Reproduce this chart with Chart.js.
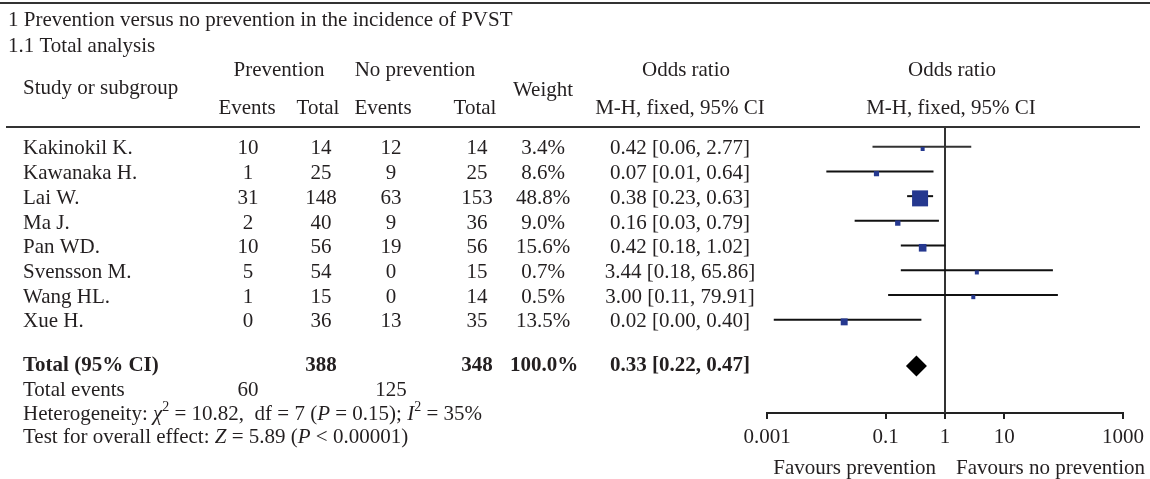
<!DOCTYPE html>
<html>
<head>
<meta charset="utf-8">
<script src="https://cdn.jsdelivr.net/npm/chart.js@4.4.0/dist/chart.umd.min.js"></script>
<style>
  html, body { margin: 0; padding: 0; background: #fff; }
  #wrap { width: 1150px; height: 479px; position: relative; }
</style>
</head>
<body>
<div id="wrap"><canvas id="forest"></canvas></div>
<script>
// study data
const studies = ['Kakinokil K.', 'Kawanaka H.', 'Lai W.', 'Ma J.', 'Pan WD.', 'Svensson M.', 'Wang HL.', 'Xue H.'];
const prevEvents = [10, 1, 31, 2, 10, 5, 1, 0];
const prevTotal = [14, 25, 148, 40, 56, 54, 15, 36];
const noPrevEvents = [12, 9, 63, 9, 19, 0, 0, 13];
const noPrevTotal = [14, 25, 153, 36, 56, 15, 14, 35];
const weights = [3.4, 8.6, 48.8, 9.0, 15.6, 0.7, 0.5, 13.5];
const oddsRatio = [0.42, 0.07, 0.38, 0.16, 0.42, 3.44, 3.00, 0.02];
const ciLow = [0.06, 0.01, 0.23, 0.03, 0.18, 0.18, 0.11, 0.0013];
const ciHigh = [2.77, 0.64, 0.63, 0.79, 1.02, 65.86, 79.91, 0.40];

// pooled result
const totalN = [388, 348];
const totalWeight = 100.0;
const totalEvents = [60, 125];
const pooled = [0.33, 0.22, 0.47]; // OR, low, high

// axis
const tickValues = [0.001, 0.1, 1, 10, 1000];
const tickLabels = ['0.001', '0.1', '1', '10', '1000'];

const FS = 21;
const FONT = '"Liberation Serif", "Times New Roman", serif';
const INK = '#231f20';
const BLUE = '#25388f';
const totalRow = studies.length + 0.79;

function txt(ctx, s, x, y, align, bold) {
  ctx.font = (bold ? 'bold ' : '') + FS + 'px ' + FONT;
  ctx.textAlign = align || 'center';
  ctx.fillText(s, x, y);
}

function runs(ctx, parts, x, y) {
  ctx.textAlign = 'left';
  parts.forEach(p => {
    let size = p.sup ? 14 : FS;
    ctx.font = (p.it ? 'italic ' : '') + size + 'px ' + FONT;
    ctx.fillText(p.t, x, p.sup ? y - 7 : y);
    x += ctx.measureText(p.t).width;
  });
}

const tablePlugin = {
  id: 'table',
  beforeDraw(chart) {
    const ctx = chart.ctx;
    ctx.save();
    ctx.fillStyle = '#fff';
    ctx.fillRect(0, 0, chart.width, chart.height);
    ctx.restore();
  },
  beforeDatasetsDraw(chart) {
    const ctx = chart.ctx, xs = chart.scales.x, area = chart.chartArea;
    let x1 = xs.getPixelForValue(1);
    ctx.save();
    ctx.strokeStyle = '#333';
    ctx.lineWidth = 2;
    ctx.beginPath();
    ctx.moveTo(x1, area.top);
    ctx.lineTo(x1, area.bottom);
    ctx.stroke();
    ctx.restore();
  },
  afterDraw(chart) {
    const ctx = chart.ctx, xs = chart.scales.x, ys = chart.scales.y;
    ctx.save();
    ctx.fillStyle = INK;
    ctx.textBaseline = 'middle';

    // rules
    ctx.strokeStyle = '#333';
    ctx.lineWidth = 2;
    ctx.beginPath();
    ctx.moveTo(0, 3); ctx.lineTo(1150, 3);
    ctx.moveTo(6, chart.chartArea.top); ctx.lineTo(1140, chart.chartArea.top);
    ctx.stroke();

    // headers
    txt(ctx, '1 Prevention versus no prevention in the incidence of PVST', 8, 20, 'left');
    txt(ctx, '1.1 Total analysis', 8, 46, 'left');
    txt(ctx, 'Study or subgroup', 23, 88, 'left');
    txt(ctx, 'Prevention', 279, 70);
    txt(ctx, 'No prevention', 415, 70);
    txt(ctx, 'Weight', 543, 90);
    txt(ctx, 'Odds ratio', 686, 70);
    txt(ctx, 'Odds ratio', 952, 70);
    txt(ctx, 'Events', 247, 108);
    txt(ctx, 'Total', 318, 108);
    txt(ctx, 'Events', 383, 108);
    txt(ctx, 'Total', 475, 108);
    txt(ctx, 'M-H, fixed, 95% CI', 680, 108);
    txt(ctx, 'M-H, fixed, 95% CI', 951, 108);

    // study rows
    studies.forEach((s, i) => {
      let y = ys.getPixelForValue(i);
      txt(ctx, s, 23, y, 'left');
      txt(ctx, String(prevEvents[i]), 248, y);
      txt(ctx, String(prevTotal[i]), 321, y);
      txt(ctx, String(noPrevEvents[i]), 391, y);
      txt(ctx, String(noPrevTotal[i]), 477, y);
      txt(ctx, weights[i].toFixed(1) + '%', 543, y);
      txt(ctx, oddsRatio[i].toFixed(2) + ' [' + ciLow[i].toFixed(2) + ', ' + ciHigh[i].toFixed(2) + ']', 680, y);
    });

    // totals
    let yt = ys.getPixelForValue(totalRow);
    txt(ctx, 'Total (95% CI)', 23, yt, 'left', true);
    txt(ctx, String(totalN[0]), 321, yt, 'center', true);
    txt(ctx, String(totalN[1]), 477, yt, 'center', true);
    txt(ctx, totalWeight.toFixed(1) + '%', 544, yt, 'center', true);
    txt(ctx, pooled[0].toFixed(2) + ' [' + pooled[1].toFixed(2) + ', ' + pooled[2].toFixed(2) + ']', 680, yt, 'center', true);

    let ye = ys.getPixelForValue(totalRow + 0.97);
    txt(ctx, 'Total events', 23, ye, 'left');
    txt(ctx, String(totalEvents[0]), 248, ye);
    txt(ctx, String(totalEvents[1]), 391, ye);

    runs(ctx, [
      {t: 'Heterogeneity: '}, {t: 'χ', it: true}, {t: '2', sup: true},
      {t: ' = 10.82,  df = 7 ('}, {t: 'P', it: true}, {t: ' = 0.15); '},
      {t: 'I', it: true}, {t: '2', sup: true}, {t: ' = 35%'}
    ], 23, ys.getPixelForValue(totalRow + 1.94));
    runs(ctx, [
      {t: 'Test for overall effect: '}, {t: 'Z', it: true}, {t: ' = 5.89 ('},
      {t: 'P', it: true}, {t: ' < 0.00001)'}
    ], 23, ys.getPixelForValue(totalRow + 2.91));

    // favours labels
    let x1 = xs.getPixelForValue(1);
    txt(ctx, 'Favours prevention', x1 - 9, 468, 'right');
    txt(ctx, 'Favours no prevention', x1 + 11, 468, 'left');
    ctx.restore();
  }
};

// confidence interval lines, one per study (drawn a touch above the box centre, as in the source)
const ciSets = studies.map((s, i) => ({
  type: 'scatter',
  data: [{x: ciLow[i], y: i - 0.09}, {x: ciHigh[i], y: i - 0.09}],
  showLine: true,
  borderColor: i === 0 ? '#333' : '#111',
  borderWidth: 2,
  pointRadius: 0,
  order: 2
}));

// box side grows with weight, with a small minimum
const markerSet = {
  data: oddsRatio.map((v, i) => ({x: v, y: i})),
  pointStyle: 'rect',
  pointRadius: weights.map(w => Math.max(4, 16 * Math.pow(w / 48.8, 0.65)) / Math.SQRT2),
  backgroundColor: BLUE,
  borderWidth: 0,
  order: 1
};

const diamondSet = {
  data: [{x: pooled[0], y: totalRow}],
  pointStyle: 'rectRot',
  pointRadius: 10.5,
  backgroundColor: '#000',
  borderWidth: 0,
  order: 0
};

new Chart(document.getElementById('forest'), {
  type: 'scatter',
  data: { datasets: [...ciSets, markerSet, diamondSet] },
  options: {
    responsive: true,
    maintainAspectRatio: false,
    animation: false,
    events: [],
    layout: { padding: { left: 767, right: 26, top: 127, bottom: 30 } },
    plugins: { legend: { display: false }, tooltip: { enabled: false } },
    scales: {
      x: {
        type: 'logarithmic',
        min: 0.001,
        max: 1000,
        afterBuildTicks: s => { s.ticks = tickValues.map(v => ({ value: v })); },
        afterFit: s => { s.height = 36; },
        ticks: {
          callback: v => tickLabels[tickValues.indexOf(v)],
          font: { family: 'Liberation Serif', size: FS },
          color: INK,
          padding: 6,
          maxRotation: 0,
          autoSkip: false
        },
        grid: { drawOnChartArea: false, tickLength: 6, color: '#222', lineWidth: 2 },
        border: { display: true, color: '#222', width: 2 }
      },
      y: { type: 'linear', reverse: true, min: -0.89, max: 10.69, display: false }
    }
  },
  plugins: [tablePlugin]
});
</script>
</body>
</html>
